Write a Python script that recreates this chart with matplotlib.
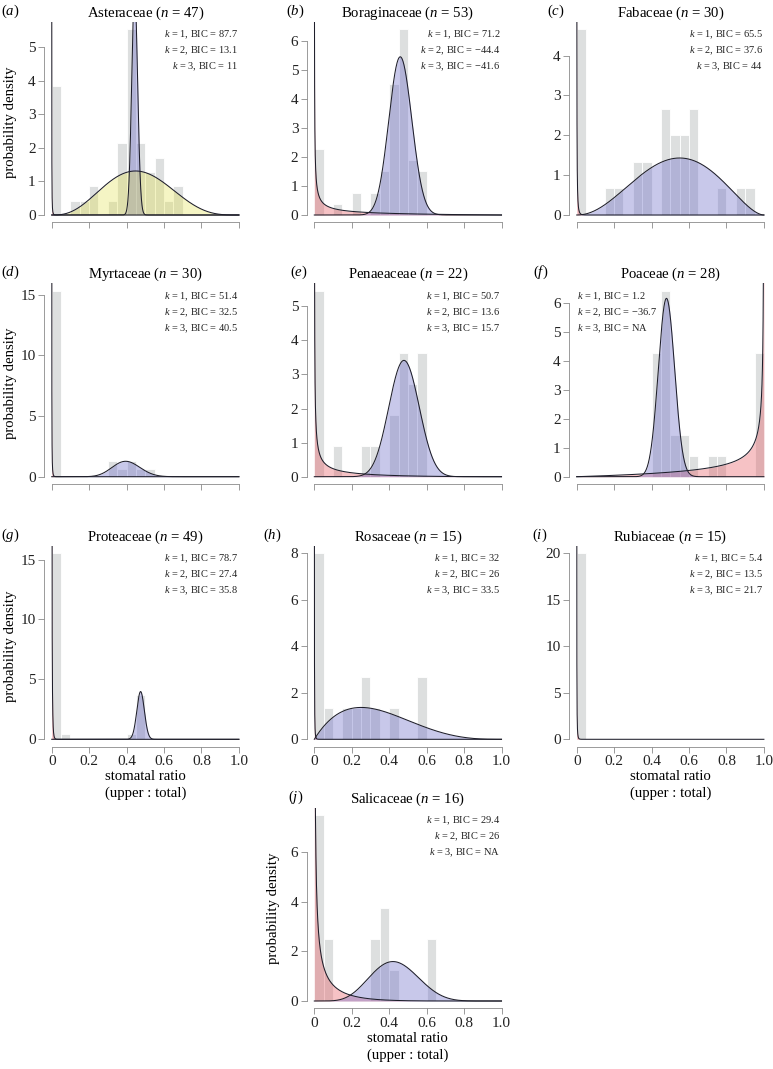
import math
import numpy as np
import matplotlib
matplotlib.use("Agg")
import matplotlib.pyplot as plt

plt.rcParams['font.family'] = ['Liberation Serif', 'DejaVu Serif']
plt.rcParams['mathtext.fontset'] = 'custom'
plt.rcParams['mathtext.rm'] = 'Liberation Serif'
plt.rcParams['mathtext.it'] = 'Liberation Serif:italic'

# ---- data ----
families = ["Asteraceae", "Boraginaceae", "Fabaceae", "Myrtaceae", "Penaeaceae",
            "Poaceae", "Proteaceae", "Rosaceae", "Rubiaceae", "Salicaceae"]
letters = ["a", "b", "c", "d", "e", "f", "g", "h", "i", "j"]
n_obs = [47, 53, 30, 30, 22, 28, 49, 15, 15, 16]

bin_width = 0.05
# counts in the 20 bins of width 0.05 between 0 and 1
counts_asteraceae   = [9, 0, 1, 1, 2, 0, 1, 5, 13, 5, 3, 4, 1, 2, 0, 0, 0, 0, 0, 0]
counts_boraginaceae = [6, 0, 1, 0, 2, 0, 2, 4, 12, 17, 5, 4, 0, 0, 0, 0, 0, 0, 0, 0]
counts_fabaceae     = [7, 0, 0, 1, 1, 0, 2, 2, 0, 4, 3, 3, 4, 0, 0, 1, 0, 1, 1, 0]
counts_myrtaceae    = [23, 0, 0, 0, 0, 0, 2, 1, 2, 1, 1, 0, 0, 0, 0, 0, 0, 0, 0, 0]
counts_penaeaceae   = [6, 0, 1, 0, 0, 1, 1, 0, 2, 4, 3, 4, 0, 0, 0, 0, 0, 0, 0, 0]
counts_poaceae      = [0, 0, 0, 0, 0, 0, 0, 0, 6, 9, 2, 2, 1, 0, 1, 1, 0, 0, 0, 6]
counts_proteaceae   = [38, 1, 0, 0, 0, 0, 0, 0, 1, 9, 0, 0, 0, 0, 0, 0, 0, 0, 0, 0]
counts_rosaceae     = [6, 1, 0, 1, 1, 2, 1, 0, 1, 0, 0, 2, 0, 0, 0, 0, 0, 0, 0, 0]
counts_rubiaceae    = [15, 0, 0, 0, 0, 0, 0, 0, 0, 0, 0, 0, 0, 0, 0, 0, 0, 0, 0, 0]
counts_salicaceae   = [6, 2, 0, 0, 0, 0, 2, 3, 1, 0, 0, 0, 2, 0, 0, 0, 0, 0, 0, 0]

# BIC for k = 1, 2, 3 (None = NA)
bic_asteraceae   = [87.7, 13.1, 11]
bic_boraginaceae = [71.2, -44.4, -41.6]
bic_fabaceae     = [65.5, 37.6, 44]
bic_myrtaceae    = [51.4, 32.5, 40.5]
bic_penaeaceae   = [50.7, 13.6, 15.7]
bic_poaceae      = [1.2, -36.7, None]
bic_proteaceae   = [78.7, 27.4, 35.8]
bic_rosaceae     = [32, 26, 33.5]
bic_rubiaceae    = [5.4, 13.5, 21.7]
bic_salicaceae   = [29.4, 26, None]

# fitted beta mixture components (shape a, shape b, weight), component 1, 2, 3
comp_asteraceae   = [(0.01, 200, 0.19), (449, 564, 0.26), (4.0, 4.7, 0.57)]
comp_boraginaceae = [(0.3, 2, 0.13), (31.3, 36.7, 0.83)]
comp_fabaceae     = [(0.02, 100, 0.23), (3.2, 2.8, 0.76)]
comp_myrtaceae    = [(0.01, 200, 0.77), (18.1, 27.2, 0.233)]
comp_penaeaceae   = [(0.3, 3, 0.13), (19.2, 20.8, 0.68)]
comp_poaceae      = [(2, 0.4, 0.37), (64.4, 69.8, 0.668)]
comp_proteaceae   = [(0.05, 200, 0.78), (295.6, 326.8, 0.2)]
comp_rosaceae     = [(0.01, 200, 0.4), (2, 4, 0.65)]
comp_rubiaceae    = [(0.01, 200, 1.0)]
comp_salicaceae   = [(0.3, 6, 0.39), (6.89, 9.13, 0.5)]

all_counts = [counts_asteraceae, counts_boraginaceae, counts_fabaceae, counts_myrtaceae,
              counts_penaeaceae, counts_poaceae, counts_proteaceae, counts_rosaceae,
              counts_rubiaceae, counts_salicaceae]
all_bic = [bic_asteraceae, bic_boraginaceae, bic_fabaceae, bic_myrtaceae, bic_penaeaceae,
           bic_poaceae, bic_proteaceae, bic_rosaceae, bic_rubiaceae, bic_salicaceae]
all_comp = [comp_asteraceae, comp_boraginaceae, comp_fabaceae, comp_myrtaceae,
            comp_penaeaceae, comp_poaceae, comp_proteaceae, comp_rosaceae,
            comp_rubiaceae, comp_salicaceae]
ytick_step = [1, 1, 1, 5, 1, 1, 5, 2, 5, 2]

# ---- layout / style ----
W, H = 773, 1069
grid = [(0, 0), (0, 1), (0, 2), (1, 0), (1, 1), (1, 2), (2, 0), (2, 1), (2, 2), (3, 1)]
col_left = [51.7, 314.3, 576.7]      # pixel of x = 0
row_zero = [215, 476.7, 739.3, 1001]  # pixel of y = 0
data_w, data_h = 187.2, 185.9
letter_x = [1, 286, 547, 1, 290, 533, 1, 263, 532, 288]
annot_left = {"Poaceae"}
comp_colors = [("#e6505a", 0.35), ("#6a6ac8", 0.37), ("#e1e13c", 0.30)]
bar_color = "#dddfdf"
axis_gray = "#8a8a8a"
line_col = "#1e1e2a"

def beta_pdf(x, a, b):
    log_b = math.lgamma(a) + math.lgamma(b) - math.lgamma(a + b)
    return np.exp((a - 1) * np.log(x) + (b - 1) * np.log1p(-x) - log_b)

def fmt(v):
    if v is None:
        return "NA"
    return ("%g" % v).replace("-", "\u2212")

xs = np.concatenate([np.geomspace(1e-9, 1e-3, 300),
                     np.linspace(1e-3, 1 - 1e-3, 3000)[1:-1],
                     1 - np.geomspace(1e-3, 1e-9, 300)])
edges = np.arange(20) * bin_width

fig = plt.figure(figsize=(W / 100, H / 100), dpi=100)

for i, fam in enumerate(families):
    r, c = grid[i]
    left = col_left[c] - 0.04 * data_w
    bottom = row_zero[r] + 0.04 * data_h
    ax = fig.add_axes([left / W, 1 - bottom / H, 1.08 * data_w / W, 1.08 * data_h / H])

    dens = np.array(all_counts[i]) / (n_obs[i] * bin_width)
    top = dens.max()
    ax.set_xlim(-0.04, 1.04)
    ax.set_ylim(-0.04 * top, 1.04 * top)

    ax.bar(edges, dens, width=bin_width, align="edge", color=bar_color,
           edgecolor="white", linewidth=0.6, zorder=1)

    curves = []
    for j, (a, b, w) in enumerate(all_comp[i]):
        y = np.minimum(w * beta_pdf(xs, a, b), 3 * top)
        col, al = comp_colors[j]
        ax.fill_between(xs, 0, y, color=col, alpha=al, linewidth=0, zorder=2)
        curves.append(y)
    for y in curves:
        ax.plot(xs, y, color=line_col, lw=0.75, zorder=3)

    # axes in R style
    for s in ("top", "right"):
        ax.spines[s].set_visible(False)
    yt = np.arange(0, top * 1.04 + 1e-9, ytick_step[i])
    ax.set_yticks(yt)
    ax.set_yticklabels(["%g" % t for t in yt])
    ax.spines["left"].set_bounds(0, yt[-1])
    ax.set_xticks([0, 0.2, 0.4, 0.6, 0.8, 1.0])
    if i >= 6:
        ax.set_xticklabels(["0", "0.2", "0.4", "0.6", "0.8", "1.0"])
    else:
        ax.set_xticklabels([])
    ax.spines["bottom"].set_bounds(0, 1)
    for s in ("left", "bottom"):
        ax.spines[s].set_color(axis_gray)
        ax.spines[s].set_linewidth(0.6)
    ax.tick_params(axis="both", length=4.3, width=0.6, color=axis_gray,
                   labelcolor="#222222", labelsize=11, pad=1.8)

    ax.set_title(f"{fam} ($n$ = {n_obs[i]})", fontsize=10.6, pad=2.8)
    txt = "\n".join(f"$k$ = {k + 1}, BIC = {fmt(v)}" for k, v in enumerate(all_bic[i]))
    if fam in annot_left:
        ax.text(0.0, 1 - 7 / (1.08 * data_h), txt, transform=ax.get_xaxis_transform(),
                ha="left", va="top", fontsize=7.5, linespacing=1.4, color="#222222")
    else:
        ax.text(0.995, 1 - 7 / (1.08 * data_h), txt, transform=ax.get_xaxis_transform(),
                ha="right", va="top", fontsize=7.5, linespacing=1.4, color="#222222")

    if c == 0 or i == 9:
        ax.text(-0.166, 0.5, "probability density", transform=ax.transAxes,
                rotation=90, ha="center", va="center", fontsize=10.6)
    if i in (6, 8, 9):
        ax.set_xlabel("stomatal ratio\n(upper : total)", fontsize=10.6,
                      labelpad=1.5, linespacing=1.3)

    top_px = row_zero[r] - 1.04 * data_h
    fig.text(letter_x[i] / W, 1 - (top_px - 7.3) / H, f"(${letters[i]}$)",
             ha="left", va="baseline", fontsize=10.6)

fig.savefig("out.png", dpi=100)
